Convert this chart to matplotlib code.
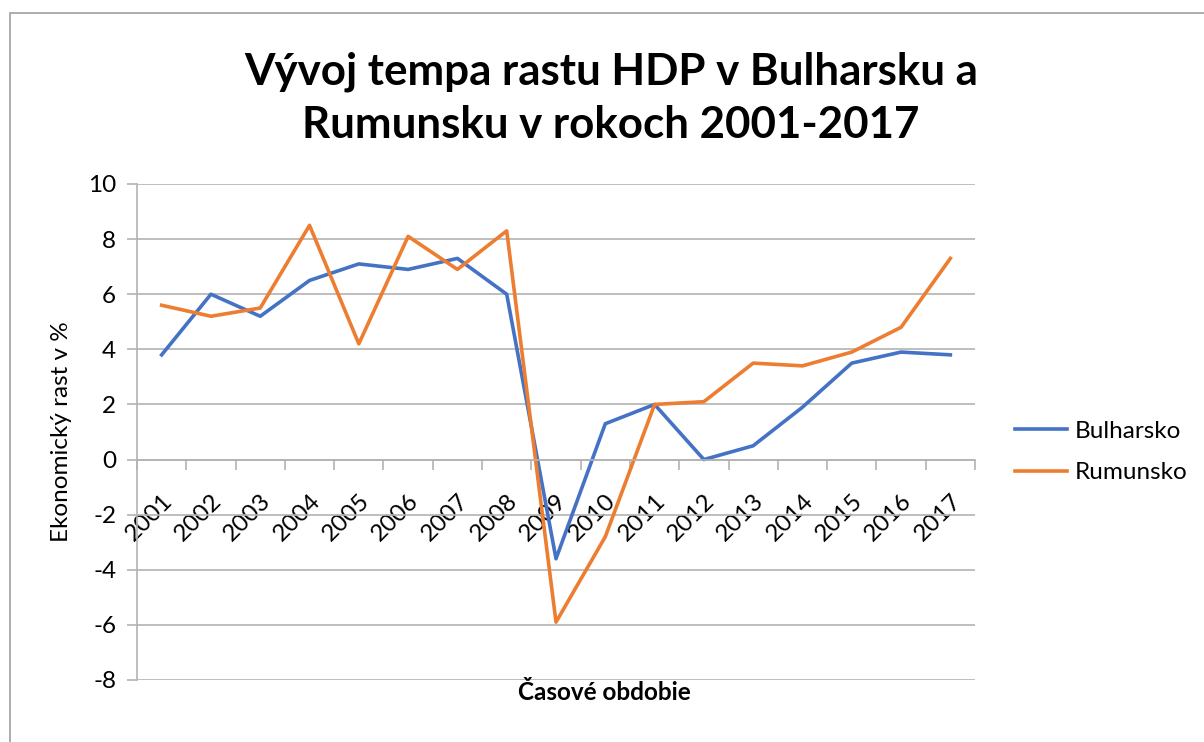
import matplotlib
matplotlib.use("Agg")
import matplotlib.pyplot as plt
from matplotlib.patches import Rectangle
import numpy as np

years = ["2001", "2002", "2003", "2004", "2005", "2006", "2007", "2008", "2009",
         "2010", "2011", "2012", "2013", "2014", "2015", "2016", "2017"]
bulharsko = [3.8, 6.0, 5.2, 6.5, 7.1, 6.9, 7.3, 6.0, -3.6, 1.3, 2.0, 0.0, 0.5, 1.9, 3.5, 3.9, 3.8]
rumunsko = [5.6, 5.2, 5.5, 8.5, 4.2, 8.1, 6.9, 8.3, -5.9, -2.8, 2.0, 2.1, 3.5, 3.4, 3.9, 4.8, 7.3]
yticks = [-8, -6, -4, -2, 0, 2, 4, 6, 8, 10]

plt.rcParams['font.family'] = ['Lato', 'DejaVu Sans']

W, H = 1204, 742
fig = plt.figure(figsize=(W / 100, H / 100), dpi=100)
fig.patch.set_facecolor('white')

# outer chart border
fig.add_artist(Rectangle((10 / W, -0.1), 1.2, 1 - 13 / H + 0.1, transform=fig.transFigure,
                         fill=False, edgecolor='#a6a6a6', linewidth=1.3))

left, right, top, bottom = 137, 975, 184, 680
ax = fig.add_axes([left / W, 1 - bottom / H, (right - left) / W, (bottom - top) / H])

x = np.arange(len(years))
ax.plot(x, bulharsko, color='#4472C4', lw=2.6, label='Bulharsko', solid_joinstyle='round')
ax.plot(x, rumunsko, color='#ED7D31', lw=2.6, label='Rumunsko', solid_joinstyle='round')

ax.set_xlim(-0.5, len(years) - 0.5)
ax.set_ylim(-8, 10)
ax.set_yticks(yticks)
ax.set_yticklabels([str(v) for v in yticks], fontsize=17.5)
ax.grid(axis='y', color='#b3b3b3', lw=1.2)
ax.set_axisbelow(True)

for s in ['top', 'right']:
    ax.spines[s].set_visible(False)
ax.spines['left'].set_color('#b3b3b3')
ax.spines['left'].set_linewidth(1.2)
ax.spines['bottom'].set_position(('data', 0))
ax.spines['bottom'].set_color('#b3b3b3')
ax.spines['bottom'].set_linewidth(1.2)

ax.tick_params(axis='y', direction='out', length=7, width=1.2, color='#b3b3b3', pad=8)
ax.set_xticks(x)
ax.set_xticklabels(years, fontsize=17.5, rotation=45, ha='right', rotation_mode='anchor')
ax.set_xticks(np.arange(-0.5, len(years), 1), minor=True)
ax.tick_params(axis='x', which='major', length=0, pad=22)
ax.tick_params(axis='x', which='minor', direction='out', length=7, width=1.2, color='#b3b3b3')

fig.text(62 / W, 1 - 432 / H, 'Ekonomický rast v %', rotation=90, ha='center', va='center', fontsize=17.5)
fig.text(604 / W, 1 - 692 / H, 'Časové obdobie', ha='center', va='center', fontsize=17.5, fontweight='bold')
fig.text(611 / W, 1 - 98 / H, 'Vývoj tempa rastu HDP v Bulharsku a\nRumunsku v rokoch 2001-2017',
         ha='center', va='center', fontsize=31.6, fontweight='bold', linespacing=1.4)

ax.legend(loc='center left', bbox_to_anchor=(1015 / W, 1 - 452 / H), bbox_transform=fig.transFigure,
          frameon=False, fontsize=17.5, handlelength=2.15, handletextpad=0.3, labelspacing=0.85,
          borderaxespad=0, borderpad=0)

fig.savefig('out.png', dpi=100)
